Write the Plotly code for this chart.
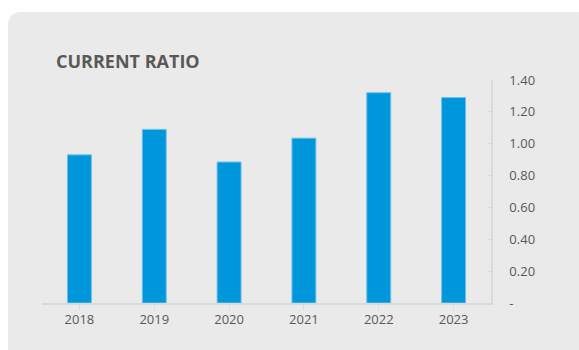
import plotly.graph_objects as go

# Current ratio by fiscal year
years = ["2018", "2019", "2020", "2021", "2022", "2023"]
current_ratio = [0.93, 1.09, 0.885, 1.035, 1.32, 1.29]

y_tick_values = [0, 0.2, 0.4, 0.6, 0.8, 1.0, 1.2, 1.4]
y_tick_labels = ["-", "0.20", "0.40", "0.60", "0.80", "1.00", "1.20", "1.40"]

W, H = 579, 350
FONT = "Open Sans"
TEXT_GREY = "#595959"
AXIS_GREY = "#D9D9D9"


def px_x(x):
    return x / W


def px_y(y):
    return 1 - y / H


def rounded_rect(x0, y0, x1, y1, r):
    # rounded rectangle path in paper coordinates, from pixel inputs
    pts = [
        f"M {px_x(x0 + r)},{px_y(y0)}",
        f"L {px_x(x1 - r)},{px_y(y0)}",
        f"Q {px_x(x1)},{px_y(y0)} {px_x(x1)},{px_y(y0 + r)}",
        f"L {px_x(x1)},{px_y(y1 - r)}",
        f"Q {px_x(x1)},{px_y(y1)} {px_x(x1 - r)},{px_y(y1)}",
        f"L {px_x(x0 + r)},{px_y(y1)}",
        f"Q {px_x(x0)},{px_y(y1)} {px_x(x0)},{px_y(y1 - r)}",
        f"L {px_x(x0)},{px_y(y0 + r)}",
        f"Q {px_x(x0)},{px_y(y0)} {px_x(x0 + r)},{px_y(y0)}",
        "Z",
    ]
    return " ".join(pts)


fig = go.Figure(
    go.Bar(
        x=years,
        y=current_ratio,
        marker=dict(color="#0096DB", line=dict(color="#6CC2EA", width=1)),
        hoverinfo="x+y",
    )
)

fig.update_layout(
    template="none",
    width=W,
    height=H,
    margin=dict(l=0, r=0, t=0, b=0, pad=0),
    paper_bgcolor="white",
    plot_bgcolor="rgba(0,0,0,0)",
    bargap=0.68,
    showlegend=False,
    font=dict(family=FONT, color=TEXT_GREY, size=13),
    shapes=[
        dict(
            type="path",
            xref="paper",
            yref="paper",
            path=rounded_rect(8, 12, 590, 362, 14),
            fillcolor="#EAEAEA",
            line=dict(width=0),
            layer="below",
        )
    ],
    annotations=[
        dict(
            text="<b>CURRENT RATIO</b>",
            xref="paper",
            yref="paper",
            x=px_x(54),
            y=px_y(61),
            xanchor="left",
            yanchor="middle",
            showarrow=False,
            font=dict(family=FONT, size=18, color=TEXT_GREY),
        )
    ],
    xaxis=dict(
        domain=[px_x(42), px_x(491)],
        automargin=False,
        showline=True,
        linecolor=AXIS_GREY,
        linewidth=1.5,
        ticks="outside",
        tickson="boundaries",
        ticklen=4,
        tickcolor=AXIS_GREY,
        showgrid=False,
        zeroline=False,
        tickfont=dict(size=13, color=TEXT_GREY),
        fixedrange=True,
    ),
    yaxis=dict(
        domain=[px_y(303), px_y(80)],
        automargin=False,
        range=[0, 1.4],
        side="right",
        showline=True,
        linecolor=AXIS_GREY,
        linewidth=1.5,
        ticks="inside",
        ticklen=3,
        tickcolor=AXIS_GREY,
        showgrid=False,
        zeroline=False,
        tickvals=y_tick_values,
        ticktext=y_tick_labels,
        tickfont=dict(size=13, color=TEXT_GREY),
        ticklabelstandoff=14,
        fixedrange=True,
    ),
)

fig.write_html("out.html")
